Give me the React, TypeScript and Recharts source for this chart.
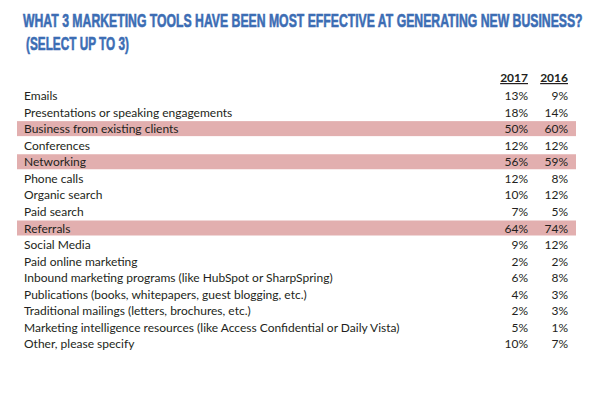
import { useLayoutEffect, useRef, useState } from 'react';
import { ComposedChart, Bar, XAxis, YAxis, LabelList } from 'recharts';

const categories = [
  'Emails',
  'Presentations or speaking engagements',
  'Business from existing clients',
  'Conferences',
  'Networking',
  'Phone calls',
  'Organic search',
  'Paid search',
  'Referrals',
  'Social Media',
  'Paid online marketing',
  'Inbound marketing programs (like HubSpot or SharpSpring)',
  'Publications (books, whitepapers, guest blogging, etc.)',
  'Traditional mailings (letters, brochures, etc.)',
  'Marketing intelligence resources (like Access Confidential or Daily Vista)',
  'Other, please specify',
];
const values2017 = [13, 18, 50, 12, 56, 12, 10, 7, 64, 9, 2, 6, 4, 2, 5, 10];
const values2016 = [9, 14, 60, 12, 59, 8, 12, 5, 74, 12, 2, 8, 3, 3, 1, 7];
const highlighted = ['Business from existing clients', 'Networking', 'Referrals'];
const years = ['2017', '2016'];
const titleLines = [
  'WHAT 3 MARKETING TOOLS HAVE BEEN MOST EFFECTIVE AT GENERATING NEW BUSINESS?',
  '(SELECT UP TO 3)',
];

const data = categories.map((name, i) => ({
  name,
  y2017: values2017[i],
  y2016: values2016[i],
  hl: highlighted.includes(name),
}));

const W = 600;
const H = 404;
const FONT = 'Lato, "Open Sans", sans-serif';
const TITLE_FONT = '"Liberation Sans", Arial, sans-serif';
const TEXT = '#231f20';
const BAND = '#e2afaf';
const BLUE = '#3c6db4';
// right edges of the two value columns
const colRight = [528, 568];

// condensed title: measure natural width, then squeeze horizontally
function FitText({ x, y, width, children }: { x: number; y: number; width: number; children: string }) {
  const ref = useRef<SVGTextElement>(null);
  const [sx, setSx] = useState(1);
  useLayoutEffect(() => {
    if (ref.current) {
      const w = ref.current.getComputedTextLength();
      if (w > 0) setSx(width / w);
    }
  }, [width, children]);
  return (
    <text ref={ref} transform={`translate(${x},${y}) scale(${sx},1)`} fontSize={19} fontWeight={700}
      fontFamily={TITLE_FONT} fill={BLUE} stroke={BLUE} strokeWidth={0.6}>
      {children}
    </text>
  );
}

const rowBackground = (p: any) => {
  const row = data[p.index];
  if (!row || !row.hl) return <g key={`bg-${p.index}`} />;
  return <rect key={`bg-${p.index}`} x={p.x} y={p.y} width={p.width} height={p.height} fill={BAND} />;
};

const nameLabel = (p: any) => (
  <text x={p.x + 7} y={p.y + p.height / 2} dy={4.5} fontSize={12} fontFamily={FONT} fill={TEXT}>
    {p.value}
  </text>
);

const valueLabel = (col: number) => (p: any) => (
  <text x={colRight[col]} y={p.y + p.height / 2} dy={4.5} fontSize={12} fontFamily={FONT} fill={TEXT} textAnchor="end">
    {p.value}%
  </text>
);

export default function App() {
  return (
    <div style={{ position: 'absolute', left: 0, top: 0, width: W, height: H, background: '#fff' }}>
      <ComposedChart
        width={W}
        height={H}
        data={data}
        layout="vertical"
        margin={{ top: 87, right: 24, bottom: 52, left: 17 }}
        barCategoryGap={0}
      >
        <XAxis type="number" domain={[0, 100]} hide />
        <YAxis type="category" dataKey="name" hide />
        <Bar dataKey="y2017" barSize={15} fill="transparent" background={rowBackground} isAnimationActive={false}>
          <LabelList dataKey="name" content={nameLabel} />
          <LabelList dataKey="y2017" content={valueLabel(0)} />
          <LabelList dataKey="y2016" content={valueLabel(1)} />
        </Bar>
      </ComposedChart>
      <svg width={W} height={H} style={{ position: 'absolute', left: 0, top: 0, pointerEvents: 'none' }}>
        <FitText x={23} y={27} width={560}>{titleLines[0]}</FitText>
        <FitText x={26} y={50} width={103}>{titleLines[1]}</FitText>
        {years.map((y, i) => (
          <text key={y} x={colRight[i]} y={82} fontSize={12} fontWeight={700} fontFamily={FONT} fill={TEXT}
            textAnchor="end" textDecoration="underline">
            {y}
          </text>
        ))}
      </svg>
    </div>
  );
}
